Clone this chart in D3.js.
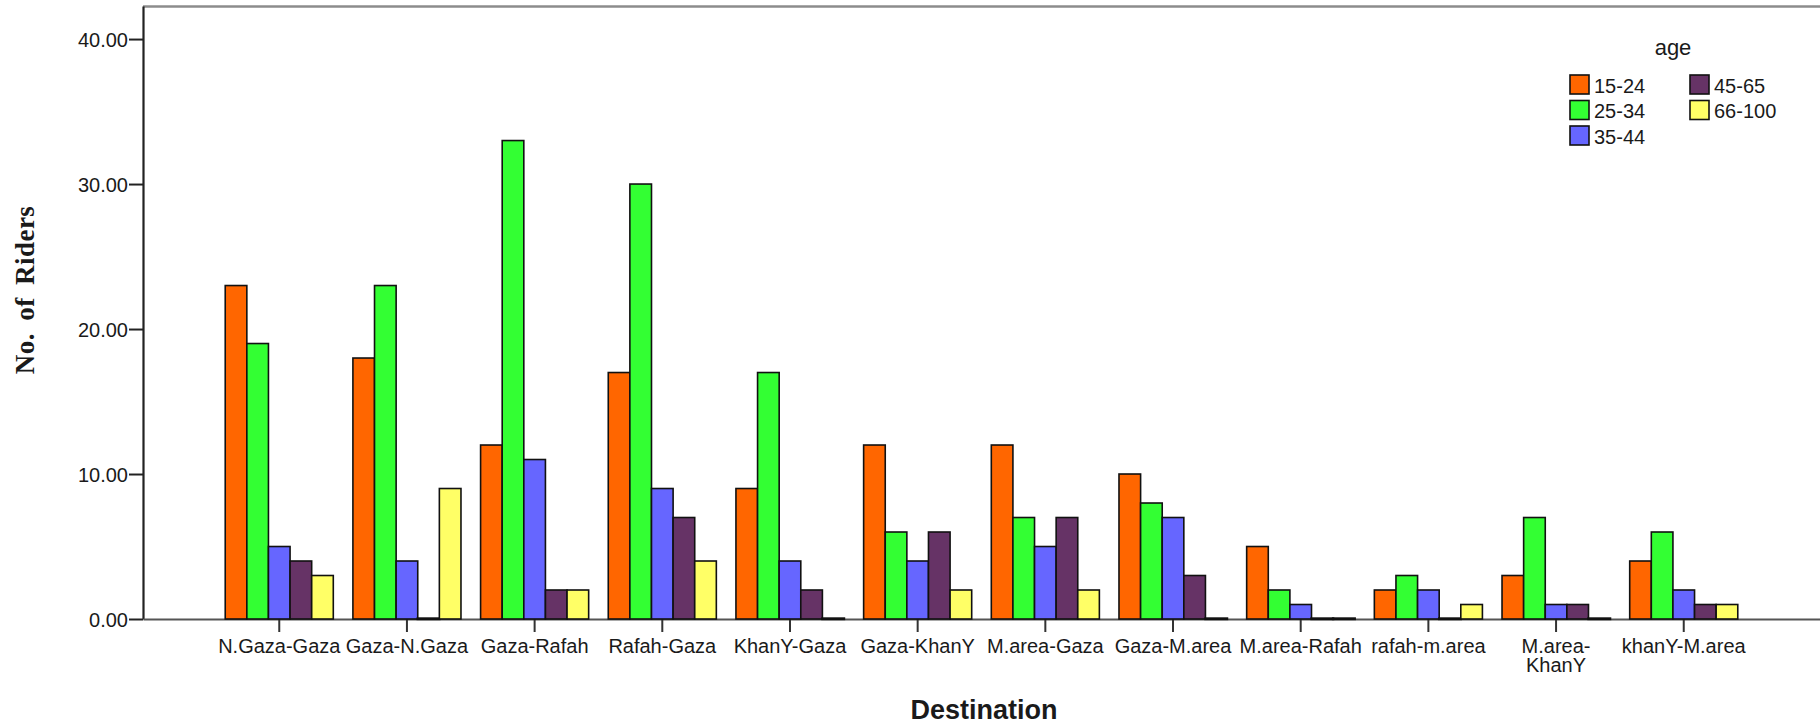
<!DOCTYPE html>
<html><head><meta charset="utf-8">
<script src="https://cdn.jsdelivr.net/npm/d3@7/dist/d3.min.js"></script>
<style>
html,body{margin:0;padding:0;background:#fff;}
svg{display:block;}
text{font-family:"Liberation Sans",Arial,sans-serif;fill:#1a1a1a;}
</style></head>
<body>
<svg id="chart" width="1820" height="726"></svg>
<script>
const categories = ["N.Gaza-Gaza","Gaza-N.Gaza","Gaza-Rafah","Rafah-Gaza","KhanY-Gaza","Gaza-KhanY","M.area-Gaza","Gaza-M.area","M.area-Rafah","rafah-m.area","M.area-KhanY","khanY-M.area"];
const ageGroups = ["15-24","25-34","35-44","45-65","66-100"];
const age15_24  = [23,18,12,17, 9,12,12,10,5,2,3,4];
const age25_34  = [19,23,33,30,17, 6, 7, 8,2,3,7,6];
const age35_44  = [ 5, 4,11, 9, 4, 4, 5, 7,1,2,1,2];
const age45_65  = [ 4, 0, 2, 7, 2, 6, 7, 3,0,0,1,1];
const age66_100 = [ 3, 9, 2, 4, 0, 2, 2, 0,0,1,0,1];
const seriesValues = [age15_24, age25_34, age35_44, age45_65, age66_100];
const colors = ["#FF6600","#33FF33","#6666FF","#663366","#FFFF66"];
const yTicks = [0,10,20,30,40];
const xLabelLines = {"M.area-KhanY":["M.area-","KhanY"]};

const svg = d3.select("#chart");
const pLeft = 143, pRight = 1820, pTop = 6, pBottom = 619;

const x0 = d3.scaleBand().domain(categories).range([pLeft, pRight]).paddingInner(0.1536).paddingOuter(0.644);
const x1 = d3.scaleBand().domain(ageGroups).range([0, x0.bandwidth()]).padding(0);
const y = d3.scaleLinear().domain([0, 42.28]).range([pBottom, pTop]);

// top frame line
svg.append("line").attr("x1", pLeft).attr("x2", pRight).attr("y1", pTop+0.5).attr("y2", pTop+0.5)
  .attr("stroke", "#8c8c8c").attr("stroke-width", 2.5);

// y axis
const yAxis = svg.append("g").attr("transform", `translate(${pLeft},0)`)
  .call(d3.axisLeft(y).tickValues(yTicks).tickFormat(d3.format(".2f")).tickSize(14).tickSizeOuter(0).tickPadding(1));
yAxis.select(".domain").attr("stroke", "#222").attr("stroke-width", 2.2);
yAxis.selectAll(".tick line").attr("stroke", "#222").attr("stroke-width", 2);
yAxis.selectAll(".tick text").attr("font-size", 20).attr("font-family", "Liberation Sans, Arial, sans-serif").attr("fill", "#1a1a1a").attr("dy", "0.36em");

// x axis
const xAxis = svg.append("g").attr("transform", `translate(0,${pBottom})`)
  .call(d3.axisBottom(x0).tickSize(13).tickSizeOuter(0));
xAxis.select(".domain").attr("stroke", "#555").attr("stroke-width", 2.2);
xAxis.selectAll(".tick line").attr("stroke", "#333").attr("stroke-width", 2);
xAxis.selectAll(".tick text").each(function(d){
  const t = d3.select(this);
  t.text(null).attr("y", 34).attr("dy", null).attr("font-size", 20)
   .attr("font-family", "Liberation Sans, Arial, sans-serif").attr("fill", "#1a1a1a");
  const lines = xLabelLines[d] || [d];
  lines.forEach((ln, j) => t.append("tspan").attr("x", 0).attr("dy", j === 0 ? 0 : 19).text(ln));
});

// bars (drawn over the axis so zero values show as a dark line)
const groups = svg.append("g").selectAll("g").data(categories).join("g")
  .attr("transform", d => `translate(${x0(d)},0)`);
groups.selectAll("rect").data((d,i) => ageGroups.map((a,k) => ({a, v: seriesValues[k][i], k})))
  .join("rect")
  .attr("x", d => x1(d.a))
  .attr("width", x1.bandwidth())
  .attr("y", d => d.v === 0 ? y(0) - 0.5 : y(d.v))
  .attr("height", d => d.v === 0 ? 0.5 : y(0) - y(d.v))
  .attr("fill", d => d.v === 0 ? "#111" : colors[d.k])
  .attr("stroke", "#111")
  .attr("stroke-width", d => d.v === 0 ? 2.4 : 1.6);

// axis titles
svg.append("text").attr("x", 984).attr("y", 719).attr("text-anchor", "middle")
  .attr("font-size", 27).attr("font-weight", "bold").text("Destination");
svg.append("text").attr("transform", "translate(34,290) rotate(-90)").attr("text-anchor", "middle")
  .style("font-family", "Liberation Serif, Times New Roman, serif")
  .attr("font-size", 27).attr("font-weight", "bold").attr("letter-spacing", 0.5).attr("word-spacing", 5).text("No. of Riders");

// legend
const legend = svg.append("g");
legend.append("text").attr("x", 1673).attr("y", 55).attr("text-anchor", "middle").attr("font-size", 22).attr("fill", "#333").text("age");
const legPos = [[1570,75],[1570,100.5],[1570,126],[1690,75],[1690,100.5]];
const li = legend.selectAll("g.item").data(ageGroups).join("g").attr("class", "item")
  .attr("transform", (d,i) => `translate(${legPos[i][0]},${legPos[i][1]})`);
li.append("rect").attr("width", 19).attr("height", 19).attr("fill", (d,i) => colors[i]).attr("stroke", "#111").attr("stroke-width", 1.6);
li.append("text").attr("x", 24).attr("y", 17.5).attr("font-size", 20).text(d => d);
</script>
</body></html>
